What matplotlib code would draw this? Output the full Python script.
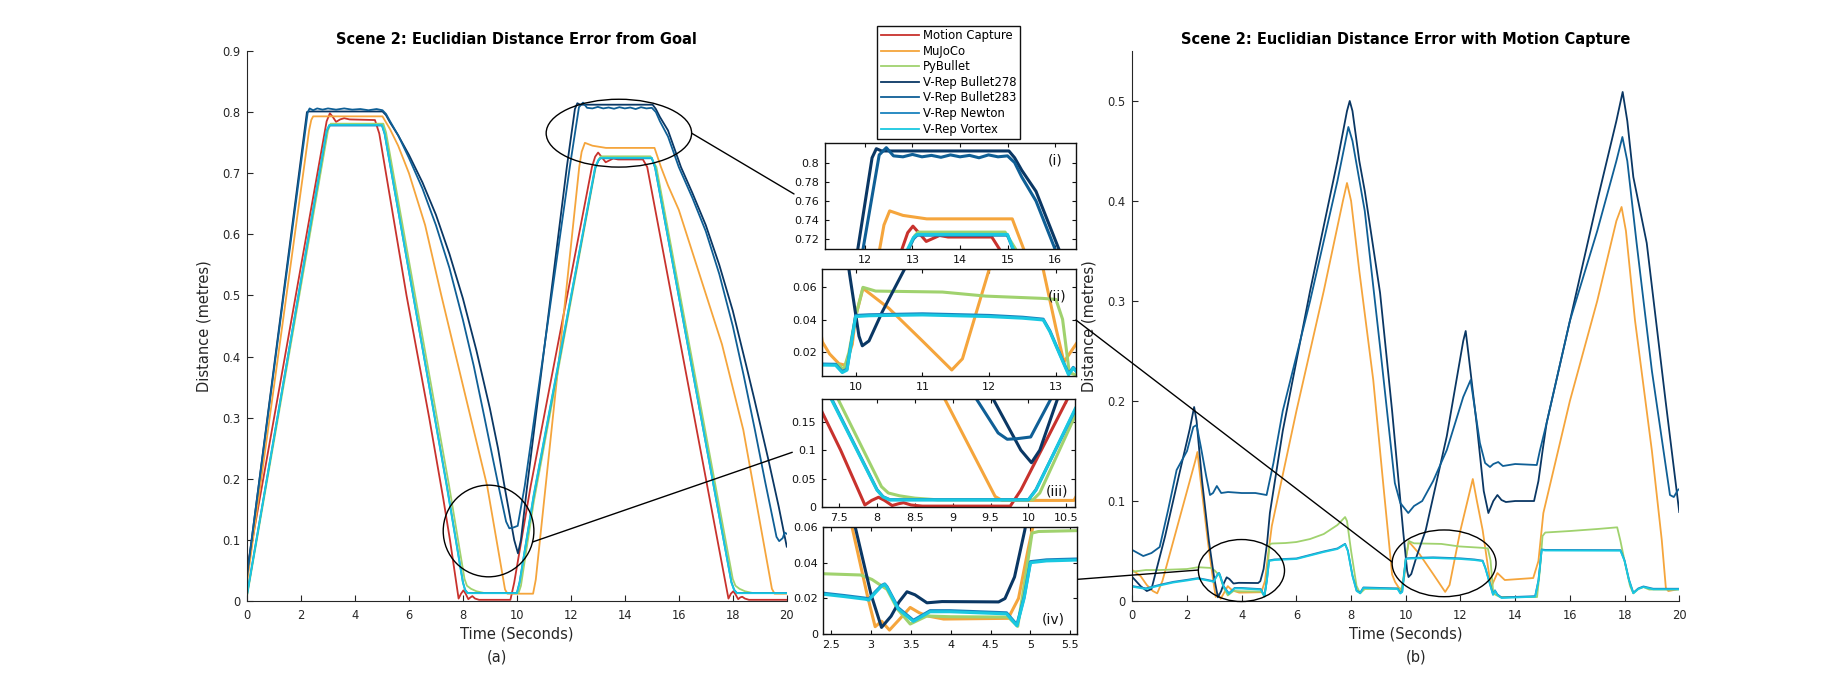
import matplotlib
matplotlib.use('Agg')
import matplotlib.pyplot as plt
from matplotlib.patches import Ellipse, ConnectionPatch
from matplotlib.ticker import FuncFormatter

plt.rcParams['font.family'] = ['DejaVu Sans']

names = ['Motion Capture', 'MuJoCo', 'PyBullet', 'V-Rep Bullet278',
         'V-Rep Bullet283', 'V-Rep Newton', 'V-Rep Vortex']
colors = ['#c8322d', '#f5a53c', '#a0d26e', '#0a3764', '#0f5f96', '#1982be', '#19c8e1']

# ---- (a) distance error from goal ----
mocap_a_t = [0, 2.95, 3.07, 3.18, 3.3, 3.45, 3.6, 3.8, 4.74, 4.9, 5.91, 6.75, 7.27, 7.52, 7.84,
             7.93, 8.02, 8.1, 8.2, 8.28, 8.35, 8.45, 8.6, 9.76, 9.9, 10.51, 12.78, 12.9, 13.01,
             13.15, 13.29, 13.43, 13.57, 13.75, 14.67, 14.83, 17.84, 17.93, 18.02, 18.1, 18.2,
             18.28, 18.35, 18.45, 18.6, 20]
mocap_a_d = [0.05, 0.785, 0.798, 0.792, 0.784, 0.788, 0.790, 0.788, 0.787, 0.765, 0.5, 0.3, 0.168,
             0.1, 0.004, 0.012, 0.0175, 0.012, 0.003, 0.006, 0.008, 0.004, 0.002, 0.002, 0.03,
             0.188, 0.71, 0.727, 0.7338, 0.726, 0.7179, 0.721, 0.7241, 0.7225, 0.7225, 0.71,
             0.004, 0.012, 0.016, 0.011, 0.003, 0.006, 0.007, 0.004, 0.002, 0.002]

mujoco_a_t = [0, 2.3, 2.38, 2.45, 5.02, 5.3, 5.6, 6.0, 6.6, 7.2, 8.07, 8.9, 9.56, 9.65, 10.6, 10.7,
              12.31, 12.4, 12.52, 12.8, 13.3, 15.1, 15.34, 15.6, 16.0, 16.8, 17.6, 18.39, 19.45,
              19.55, 20]
mujoco_a_d = [0.03, 0.77, 0.787, 0.793, 0.793, 0.772, 0.745, 0.7, 0.615, 0.5, 0.34, 0.188, 0.019,
              0.012, 0.012, 0.035, 0.71, 0.735, 0.7497, 0.745, 0.7414, 0.7414, 0.71, 0.68, 0.64,
              0.53, 0.42, 0.28, 0.02, 0.012, 0.012]

pybullet_a_t = [0, 3.0, 3.1, 5.05, 5.15, 7.49, 8.06, 8.15, 8.3, 8.5, 8.8, 10.06, 10.15, 10.62,
                12.92, 13.05, 13.12, 14.95, 15.17, 18.0, 18.1, 18.25, 18.45, 18.75, 20]
pybullet_a_d = [0.008, 0.77, 0.781, 0.781, 0.767, 0.188, 0.036, 0.025, 0.02, 0.016, 0.013, 0.013,
                0.025, 0.161, 0.71, 0.724, 0.7276, 0.7276, 0.71, 0.036, 0.025, 0.02, 0.016, 0.013, 0.013]

b278_a_t = [0, 0.17, 2.22, 2.3, 5.02, 5.15, 5.3, 5.6, 6.0, 6.5, 7.0, 7.5, 8.0, 8.5, 9.0, 9.3,
            9.54, 9.9, 10.04, 10.15, 10.38, 11.85, 12.15, 12.24, 12.35, 15.03, 15.15, 15.3, 15.6,
            16.08, 16.5, 17.0, 17.5, 18.0, 18.5, 18.8, 19.3, 19.7, 20]
b278_a_d = [0.045, 0.1, 0.8, 0.801, 0.801, 0.795, 0.783, 0.762, 0.73, 0.685, 0.632, 0.568, 0.495,
            0.41, 0.315, 0.25, 0.188, 0.1, 0.078, 0.1, 0.188, 0.71, 0.805, 0.8145, 0.8121, 0.8121,
            0.805, 0.792, 0.77, 0.71, 0.668, 0.615, 0.55, 0.475, 0.385, 0.33, 0.235, 0.155, 0.089]

b283_a_t = [0, 0.17, 2.25, 2.32, 2.45, 2.6, 2.8, 3.0, 3.3, 3.6, 3.9, 4.2, 4.5, 4.8, 5.02, 5.15, 5.3,
            5.6, 6.0, 6.5, 7.0, 7.5, 8.0, 8.4, 8.8, 9.1, 9.32, 9.6, 9.72, 9.85, 10.03, 10.29,
            11.96, 12.3, 12.45, 12.6, 12.8, 13.0, 13.2, 13.4, 13.6, 13.8, 14.0, 14.2, 14.4, 14.6,
            14.8, 15.0, 15.15, 15.3, 15.6, 16.0, 16.5, 17.0, 17.5, 18.0, 18.4, 18.82, 19.2, 19.62,
            19.72, 19.85, 19.92, 20]
b283_a_d = [0.04, 0.1, 0.8, 0.806, 0.803, 0.806, 0.804, 0.806, 0.804, 0.806, 0.804, 0.805, 0.803,
            0.805, 0.803, 0.797, 0.785, 0.762, 0.725, 0.675, 0.615, 0.545, 0.46, 0.385, 0.3,
            0.235, 0.188, 0.13, 0.119, 0.12, 0.123, 0.188, 0.71, 0.808, 0.8155, 0.807, 0.806,
            0.8085, 0.806, 0.8075, 0.8055, 0.808, 0.806, 0.8075, 0.805, 0.808, 0.806, 0.807,
            0.8, 0.785, 0.76, 0.71, 0.66, 0.605, 0.535, 0.45, 0.37, 0.28, 0.195, 0.105, 0.098,
            0.103, 0.112, 0.11]

vortex_a_t = [0, 2.95, 3.05, 5.0, 5.1, 7.4, 8.0, 8.08, 8.17, 10.0, 10.1, 10.62, 12.9, 13.02, 13.1,
              15.0, 15.12, 17.95, 18.05, 18.15, 20]
vortex_a_d = [0.01, 0.77, 0.779, 0.779, 0.765, 0.188, 0.03, 0.018, 0.0128, 0.0128, 0.03, 0.173,
              0.71, 0.722, 0.7252, 0.7252, 0.71, 0.03, 0.018, 0.0128, 0.0128]
newton_a_d = [0.011, 0.769, 0.778, 0.778, 0.764, 0.19, 0.031, 0.0185, 0.0133, 0.0133, 0.031, 0.171,
              0.708, 0.7205, 0.7244, 0.7244, 0.709, 0.031, 0.0185, 0.0133, 0.0133]

# ---- (b) distance error with motion capture ----
mujoco_b_t = [0, 0.3, 0.53, 0.75, 0.91, 1.1, 2.3, 2.38, 2.5, 2.76, 2.95, 3.05, 3.13, 3.23, 3.35,
              3.49, 3.6, 3.7, 3.91, 4.72, 4.85, 4.97, 5.03, 5.1, 6.0, 7.0, 7.7, 7.85, 8.0, 8.3,
              8.81, 9.2, 9.5, 9.61, 9.75, 9.85, 9.95, 10.0, 10.11, 10.5, 11.0, 11.44, 11.6, 12.0,
              12.45, 12.6, 12.81, 13.0, 13.12, 13.35, 13.62, 14.66, 14.85, 15.03, 16.0, 17.0, 17.7,
              17.89, 18.05, 18.38, 19.0, 19.36, 19.51, 19.6, 20]
mujoco_b_d = [0.031, 0.025, 0.016, 0.01, 0.0077, 0.02, 0.14, 0.149, 0.12, 0.06, 0.022, 0.0041,
              0.0072, 0.0022, 0.008, 0.0149, 0.012, 0.0102, 0.0084, 0.0088, 0.02, 0.0474, 0.06,
              0.075, 0.19, 0.31, 0.40, 0.418, 0.40, 0.33, 0.221, 0.11, 0.0265, 0.019, 0.013, 0.012,
              0.025, 0.042, 0.0594, 0.047, 0.027, 0.0091, 0.016, 0.071, 0.122, 0.1, 0.071, 0.035,
              0.014, 0.028, 0.021, 0.023, 0.04, 0.088, 0.2, 0.3, 0.38, 0.394, 0.37, 0.281, 0.15,
              0.061, 0.013, 0.01, 0.012]

pybullet_b_t = [0, 0.5, 1.0, 2.0, 2.4, 2.87, 3.01, 3.2, 3.33, 3.49, 3.7, 4.0, 4.72, 4.84, 4.93,
                5.02, 5.1, 5.6, 6.0, 6.5, 7.0, 7.5, 7.78, 7.85, 8.0, 8.2, 8.33, 8.5, 9.75, 9.82,
                9.9, 10.0, 10.11, 10.3, 11.3, 11.95, 12.8, 13.0, 13.1, 13.2, 13.3, 13.45, 14.8,
                14.9, 15.0, 15.1, 16.0, 17.0, 17.73, 17.85, 18.0, 18.2, 18.32, 18.5, 18.69, 18.9, 20]
pybullet_b_d = [0.0293, 0.031, 0.031, 0.032, 0.0338, 0.0331, 0.0306, 0.025, 0.014, 0.0056, 0.0101,
                0.0097, 0.0095, 0.0043, 0.03, 0.0566, 0.0575, 0.058, 0.059, 0.062, 0.067, 0.076,
                0.084, 0.08, 0.05, 0.015, 0.0077, 0.012, 0.0125, 0.009, 0.02, 0.042, 0.06, 0.0577,
                0.0571, 0.0546, 0.0532, 0.0526, 0.0403, 0.0075, 0.006, 0.004, 0.004, 0.03, 0.065,
                0.0685, 0.07, 0.072, 0.0737, 0.06, 0.04, 0.015, 0.0077, 0.012, 0.014, 0.0115, 0.0115]

b278_b_t = [0, 0.3, 0.53, 0.7, 1.2, 1.7, 2.1, 2.26, 2.35, 2.55, 2.8, 3.0, 3.13, 3.25, 3.35, 3.45,
            3.55, 3.7, 3.89, 4.6, 4.68, 4.8, 4.93, 5.03, 5.5, 6.5, 7.5, 7.85, 7.95, 8.05, 8.3, 8.5,
            9.06, 9.5, 9.91, 10.05, 10.1, 10.2, 10.4, 10.73, 11.5, 12.1, 12.19, 12.3, 12.6, 12.85,
            13.02, 13.2, 13.35, 13.5, 13.66, 14.0, 14.69, 14.85, 15.0, 15.15, 16.0, 17.0, 17.7,
            17.93, 18.1, 18.32, 18.81, 19.5, 20]
b278_b_d = [0.024, 0.015, 0.01, 0.012, 0.065, 0.125, 0.172, 0.194, 0.18, 0.12, 0.06, 0.022, 0.0037,
            0.01, 0.018, 0.0237, 0.022, 0.0175, 0.0182, 0.018, 0.0199, 0.032, 0.0585, 0.088, 0.17,
            0.31, 0.44, 0.49, 0.50, 0.49, 0.44, 0.41, 0.308, 0.19, 0.068, 0.03, 0.024, 0.027,
            0.045, 0.071, 0.165, 0.26, 0.27, 0.245, 0.175, 0.11, 0.088, 0.1, 0.106, 0.101, 0.099,
            0.1, 0.1, 0.12, 0.15, 0.178, 0.28, 0.4, 0.48, 0.509, 0.48, 0.424, 0.358, 0.2, 0.089]

b283_b_t = [0, 0.4, 0.7, 1.0, 1.3, 1.62, 2.0, 2.23, 2.35, 2.5, 2.7, 2.84, 2.95, 3.09, 3.25, 3.5,
            4.0, 4.5, 4.91, 5.16, 5.5, 6.5, 7.5, 7.9, 8.05, 8.5, 9.06, 9.6, 9.8, 10.09, 10.3, 10.6,
            11.0, 11.5, 12.1, 12.37, 12.71, 12.9, 13.08, 13.2, 13.38, 13.55, 14.0, 14.79, 14.9,
            15.15, 16.0, 17.0, 17.7, 17.92, 18.1, 18.44, 19.0, 19.66, 19.8, 19.95, 20]
b283_b_d = [0.051, 0.045, 0.048, 0.054, 0.09, 0.131, 0.15, 0.174, 0.176, 0.155, 0.125, 0.106, 0.108,
            0.115, 0.108, 0.109, 0.108, 0.108, 0.106, 0.138, 0.19, 0.3, 0.42, 0.474, 0.46, 0.39,
            0.254, 0.118, 0.098, 0.088, 0.095, 0.1, 0.12, 0.151, 0.204, 0.221, 0.158, 0.138,
            0.134, 0.137, 0.139, 0.135, 0.137, 0.136, 0.15, 0.178, 0.28, 0.37, 0.44, 0.464, 0.44,
            0.358, 0.23, 0.106, 0.104, 0.111, 0.112]

vortex_b_t = [0, 0.5, 1.0, 1.5, 2.0, 2.4, 2.66, 2.93, 2.97, 3.05, 3.13, 3.17, 3.2, 3.34, 3.53, 3.74,
              3.99, 4.7, 4.83, 4.92, 5.0, 5.2, 6.0, 7.0, 7.5, 7.78, 7.88, 8.05, 8.2, 8.33, 8.45,
              9.7, 9.8, 9.87, 10.0, 10.2, 11.0, 12.0, 12.5, 12.81, 12.91, 13.06, 13.19, 13.26,
              13.35, 13.5, 14.73, 14.85, 14.97, 15.1, 17.85, 18.0, 18.16, 18.32, 18.5, 18.69, 19.05, 20]
vortex_b_d = [0.0143, 0.012, 0.0155, 0.0185, 0.0205, 0.0223, 0.021, 0.0195, 0.019, 0.023, 0.0268,
              0.0278, 0.026, 0.014, 0.0071, 0.0125, 0.0125, 0.0113, 0.0046, 0.02, 0.04, 0.041,
              0.042, 0.049, 0.052, 0.0567, 0.05, 0.025, 0.01, 0.0077, 0.013, 0.012, 0.0075, 0.009,
              0.042, 0.0425, 0.043, 0.042, 0.041, 0.0399, 0.0327, 0.0184, 0.0061, 0.0102, 0.006,
              0.003, 0.0043, 0.02, 0.051, 0.0505, 0.0503, 0.04, 0.021, 0.0077, 0.012, 0.014,
              0.0117, 0.0117]
newton_b_d = [0.015, 0.0127, 0.0162, 0.0192, 0.0212, 0.0229, 0.0216, 0.0201, 0.0196, 0.0236, 0.0272,
              0.0281, 0.0265, 0.0147, 0.0077, 0.0131, 0.0131, 0.0119, 0.0052, 0.0207, 0.0406,
              0.0416, 0.0426, 0.0496, 0.0526, 0.0572, 0.0506, 0.0256, 0.0106, 0.0083, 0.0136,
              0.0126, 0.0081, 0.0096, 0.0427, 0.0431, 0.0437, 0.0427, 0.0416, 0.0404, 0.0332,
              0.0189, 0.0067, 0.0107, 0.0066, 0.0036, 0.0049, 0.0207, 0.0516, 0.0511, 0.0509,
              0.0406, 0.0216, 0.0083, 0.0126, 0.0146, 0.0123, 0.0123]

series_a = [(mocap_a_t, mocap_a_d), (mujoco_a_t, mujoco_a_d), (pybullet_a_t, pybullet_a_d),
            (b278_a_t, b278_a_d), (b283_a_t, b283_a_d), (vortex_a_t, newton_a_d),
            (vortex_a_t, vortex_a_d)]
series_b = [None, (mujoco_b_t, mujoco_b_d), (pybullet_b_t, pybullet_b_d),
            (b278_b_t, b278_b_d), (b283_b_t, b283_b_d), (vortex_b_t, newton_b_d),
            (vortex_b_t, vortex_b_d)]

grey = '#262626'
fmt = FuncFormatter(lambda v, p: '%g' % round(v, 6))


def draw(ax, series, lw):
    handles = []
    for s, c, n in zip(series, colors, names):
        if s is None:
            continue
        h, = ax.plot(s[0], s[1], color=c, lw=lw, label=n)
        handles.append(h)
    return handles


def style_main(ax):
    for side in ['top', 'right']:
        ax.spines[side].set_visible(False)
    for side in ['left', 'bottom']:
        ax.spines[side].set_color(grey)
        ax.spines[side].set_linewidth(0.8)
    ax.tick_params(direction='in', length=4, width=0.8, colors=grey, labelsize=8.3)
    ax.tick_params(axis='x', pad=6)
    ax.tick_params(axis='y', pad=5)
    ax.xaxis.set_major_formatter(fmt)
    ax.yaxis.set_major_formatter(fmt)
    ax.set_xlim(0, 20)
    ax.set_xticks(range(0, 21, 2))
    ax.set_xlabel('Time (Seconds)', fontsize=10.5, color=grey, labelpad=3)
    ax.set_ylabel('Distance (metres)', fontsize=10.5, color=grey)
    ax.yaxis.set_label_coords(-0.066, 0.5)


def style_inset(ax, xlim, ylim, xt, yt, tag, tagpos):
    ax.set_xlim(*xlim)
    ax.set_ylim(*ylim)
    ax.set_xticks(xt)
    ax.set_yticks(yt)
    ax.xaxis.set_major_formatter(fmt)
    ax.yaxis.set_major_formatter(fmt)
    ax.tick_params(direction='in', length=3, width=0.8, top=True, right=True,
                   labelsize=8, colors='#111111', pad=4)
    for sp in ax.spines.values():
        sp.set_linewidth(1.0)
        sp.set_color('#111111')
    ax.text(tagpos[0], tagpos[1], tag, transform=ax.transAxes, fontsize=10,
            ha='center', va='center', color='#111111')


fig = plt.figure(figsize=(18.49, 6.76), dpi=100)

ax_a = fig.add_axes([0.1336, 0.1109, 0.2919, 0.8137])
ax_b = fig.add_axes([0.6124, 0.1109, 0.2958, 0.8137])
ins1 = fig.add_axes([0.4462, 0.6312, 0.1357, 0.1577])
ins2 = fig.add_axes([0.4447, 0.4438, 0.1372, 0.1578])
ins3 = fig.add_axes([0.4444, 0.2496, 0.1372, 0.1598])
ins4 = fig.add_axes([0.4453, 0.0621, 0.1370, 0.1588])

handles = draw(ax_a, series_a, 1.3)
draw(ax_b, series_b, 1.3)
draw(ins1, series_a, 2.2)
draw(ins3, series_a, 2.2)
draw(ins2, series_b, 2.2)
draw(ins4, series_b, 2.2)

style_main(ax_a)
ax_a.set_ylim(0, 0.9)
ax_a.set_yticks([i / 10 for i in range(10)])
ax_a.set_title('Scene 2: Euclidian Distance Error from Goal', fontsize=10.5,
               fontweight='bold', pad=5)

style_main(ax_b)
ax_b.set_ylim(0, 0.55)
ax_b.set_yticks([i / 10 for i in range(6)])
ax_b.set_title('Scene 2: Euclidian Distance Error with Motion Capture', fontsize=10.5,
               fontweight='bold', pad=5)

style_inset(ins1, (11.16, 16.44), (0.7097, 0.8207), [12, 13, 14, 15, 16],
            [0.72, 0.74, 0.76, 0.78, 0.8], '(i)', (0.916, 0.83))
style_inset(ins2, (9.5, 13.3), (0.0054, 0.0711), [10, 11, 12, 13],
            [0.02, 0.04, 0.06], '(ii)', (0.924, 0.743))
style_inset(ins3, (7.27, 10.62), (0, 0.189), [7.5, 8, 8.5, 9, 9.5, 10, 10.5],
            [0, 0.05, 0.1, 0.15], '(iii)', (0.929, 0.144))
style_inset(ins4, (2.4, 5.58), (0, 0.0602), [2.5, 3, 3.5, 4, 4.5, 5, 5.5],
            [0, 0.02, 0.04, 0.06], '(iv)', (0.908, 0.137))

# zoom ellipses
ax_a.add_patch(Ellipse((13.78, 0.7655), 5.39, 0.111, fill=False, ec='k', lw=1.0, clip_on=False, zorder=5))
ax_a.add_patch(Ellipse((8.95, 0.1146), 3.36, 0.15, fill=False, ec='k', lw=1.0, clip_on=False, zorder=5))
ax_b.add_patch(Ellipse((3.99, 0.0305), 3.15, 0.062, fill=False, ec='k', lw=1.0, clip_on=False, zorder=5))
ax_b.add_patch(Ellipse((11.4, 0.0377), 3.8, 0.0667, fill=False, ec='k', lw=1.0, clip_on=False, zorder=5))

# connector lines
links = [((16.475, 0.7655), ax_a.transData, (-0.1235, 0.519), ins1.transAxes),
         ((10.58, 0.0966), ax_a.transData, (-0.116, 0.509), ins3.transAxes),
         ((2.415, 0.031), ax_b.transData, (1.006, 0.51), ins4.transAxes),
         ((1.0, 0.525), ins2.transAxes, (9.5, 0.039), ax_b.transData)]
for xa, ca, xb, cb in links:
    con = ConnectionPatch(xyA=xa, coordsA=ca, xyB=xb, coordsB=cb, color='k', lw=1.0,
                          shrinkA=0, shrinkB=0)
    fig.add_artist(con)

fig.legend(handles=handles, loc='upper left', bbox_to_anchor=(0.4745, 0.962),
           fontsize=8.4, frameon=True, fancybox=False, edgecolor='#111111',
           framealpha=1, borderaxespad=0, borderpad=0.3, labelspacing=0.22,
           handlelength=3.3, handletextpad=0.3)

fig.text(0.2687, 0.028, '(a)', fontsize=10.5, ha='center', va='center', color=grey)
fig.text(0.7658, 0.028, '(b)', fontsize=10.5, ha='center', va='center', color=grey)

fig.savefig('out.png', dpi=100)
